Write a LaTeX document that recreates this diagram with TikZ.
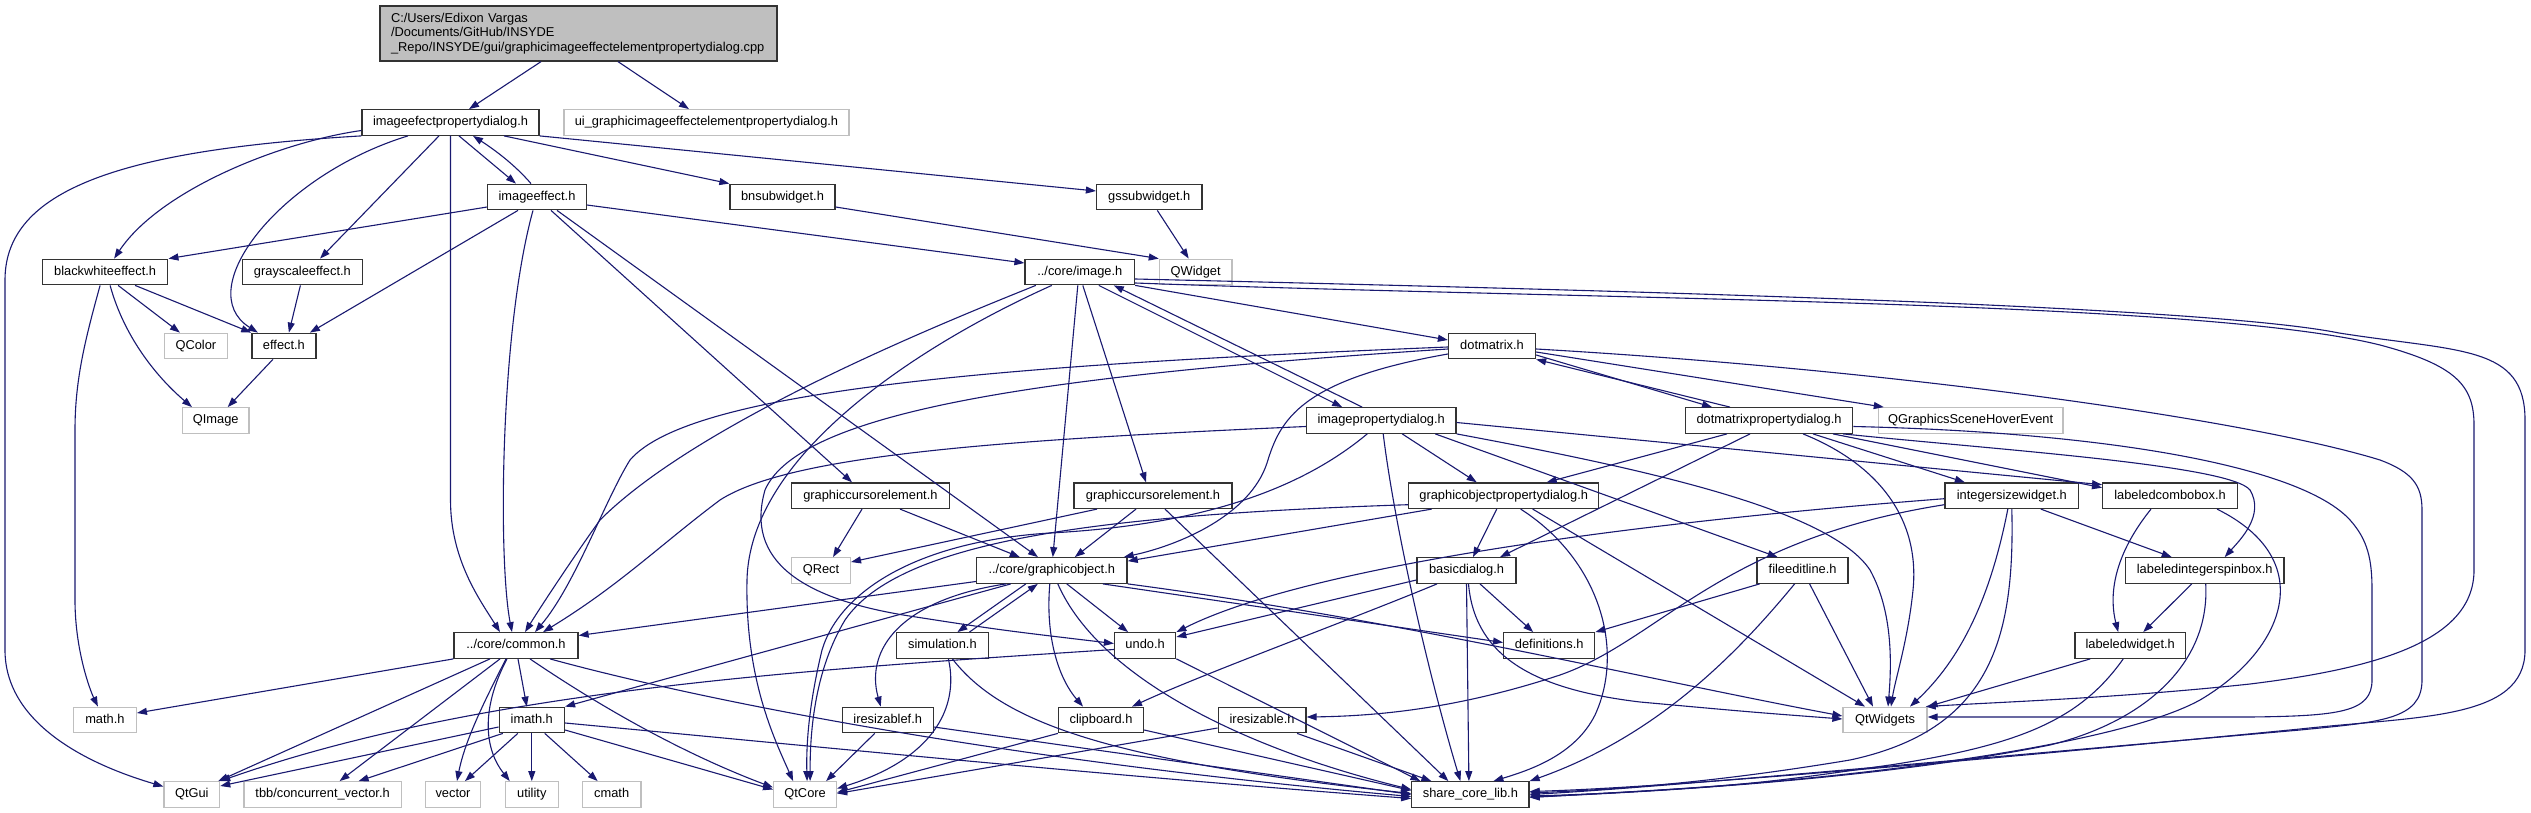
\documentclass[tikz,border=0pt]{standalone}
\usepackage{fontspec}
\setmainfont{Liberation Sans}
\usetikzlibrary{arrows.meta}
\definecolor{edgecol}{HTML}{191970}
\definecolor{gbord}{HTML}{BFBFBF}
\definecolor{rootfill}{HTML}{BFBFBF}
\begin{document}
\begin{tikzpicture}[x=1pt,y=-1pt,
 every node/.style={font=\fontsize{12.85}{14.7}\selectfont},
 nb/.style={draw=black!80,line width=1.3pt,fill=white,minimum height=25.5pt,inner sep=0pt,text height=9.3pt,text depth=2.7pt},
 ng/.style={draw=gbord,line width=1.3pt,fill=white,minimum height=25.5pt,inner sep=0pt,text height=9.3pt,text depth=2.7pt},
 edg/.style={draw=edgecol,line width=1.1pt,-{Triangle[length=10pt,width=7pt]}}]
\fill[white] (0,0) rectangle (2531,813);
\useasboundingbox (0,0) rectangle (2531,813);
% nodes
\node[draw=black!80,line width=1.3pt,fill=rootfill,minimum width=397pt,minimum height=55pt,text width=375pt,align=left,inner sep=0pt] (R) at (578.5,33.5) {C:/Users/Edixon Vargas\\/Documents/GitHub/INSYDE\\\_Repo/INSYDE/gui/graphicimageeffectelementpropertydialog.cpp};
\node[nb,minimum width=177pt] (IEPD) at (450.5,122.5) {imageefectpropertydialog.h};
\node[ng,minimum width=285pt] (UI) at (706.5,122.5) {ui\_graphicimageeffectelementpropertydialog.h};
\node[nb,minimum width=98.5pt] (IE) at (537,197) {imageeffect.h};
\node[nb,minimum width=105pt] (BN) at (782.5,197) {bnsubwidget.h};
\node[nb,minimum width=105.5pt] (GS) at (1149.3,197) {gssubwidget.h};
\node[nb,minimum width=125.4pt] (BW) at (105.1,272) {blackwhiteeffect.h};
\node[nb,minimum width=120pt] (GR) at (302.4,272) {grayscaleeffect.h};
\node[nb,minimum width=109.5pt] (IMG) at (1079.8,272) {../core/image.h};
\node[ng,minimum width=72.6pt] (QW) at (1195.7,272) {QWidget};
\node[ng,minimum width=62.8pt] (QC) at (195.9,346) {QColor};
\node[nb,minimum width=64.1pt] (EF) at (283.9,346) {effect.h};
\node[nb,minimum width=87pt] (DM) at (1492,346) {dotmatrix.h};
\node[ng,minimum width=66.6pt] (QI) at (215.7,420.5) {QImage};
\node[nb,minimum width=149.5pt] (IPD) at (1381.2,420.5) {imagepropertydialog.h};
\node[nb,minimum width=167.4pt] (DMPD) at (1769,420.5) {dotmatrixpropertydialog.h};
\node[ng,minimum width=184.6pt] (QG) at (1970.7,420.5) {QGraphicsSceneHoverEvent};
\node[nb,minimum width=157.6pt] (GCE1) at (870.4,495.7) {graphiccursorelement.h};
\node[nb,minimum width=158pt] (GCE2) at (1153,495.7) {graphiccursorelement.h};
\node[nb,minimum width=190.2pt] (GOPD) at (1503.7,495.7) {graphicobjectpropertydialog.h};
\node[nb,minimum width=133.6pt] (ISW) at (2011.8,495.7) {integersizewidget.h};
\node[nb,minimum width=134.6pt] (LCB) at (2170,495.7) {labeledcombobox.h};
\node[ng,minimum width=58.8pt] (QR) at (821,570.5) {QRect};
\node[nb,minimum width=150.6pt] (GO) at (1051.8,570.5) {../core/graphicobject.h};
\node[nb,minimum width=99pt] (BD) at (1466.5,570.5) {basicdialog.h};
\node[nb,minimum width=91pt] (FEL) at (1802.6,570.5) {fileeditline.h};
\node[nb,minimum width=158.4pt] (LISB) at (2204.7,570.5) {labeledintegerspinbox.h};
\node[nb,minimum width=124pt] (CM) at (516,645.5) {../core/common.h};
\node[nb,minimum width=92pt] (SIM) at (942.4,645.5) {simulation.h};
\node[nb,minimum width=61.2pt] (UNDO) at (1145.1,645.5) {undo.h};
\node[nb,minimum width=91pt] (DEF) at (1549.2,645.5) {definitions.h};
\node[nb,minimum width=110.5pt] (LW) at (2130.2,645.5) {labeledwidget.h};
\node[ng,minimum width=62.8pt] (MATH) at (104.9,720) {math.h};
\node[nb,minimum width=65.3pt] (IM) at (531.8,720) {imath.h};
\node[nb,minimum width=91pt] (IRF) at (887.7,720) {iresizablef.h};
\node[nb,minimum width=85pt] (CLIP) at (1101,720) {clipboard.h};
\node[nb,minimum width=87.8pt] (IR) at (1262.1,720) {iresizable.h};
\node[ng,minimum width=84pt] (QTW) at (1885,720) {QtWidgets};
\node[ng,minimum width=55.6pt] (QTG) at (191.8,794.5) {QtGui};
\node[ng,minimum width=157.2pt] (TBB) at (322.6,794.5) {tbb/concurrent\_vector.h};
\node[ng,minimum width=55.5pt] (VEC) at (453,794.5) {vector};
\node[ng,minimum width=53pt] (UTIL) at (531.8,794.5) {utility};
\node[ng,minimum width=58.6pt] (CMATH) at (611.7,794.5) {cmath};
\node[ng,minimum width=62.8pt] (QTC) at (805.1,794.5) {QtCore};
\node[nb,minimum width=117.2pt] (SCL) at (1470.4,794.5) {share\_core\_lib.h};
% edges
\draw[edg] ([xshift=-37.5pt]R.south) -- ([xshift=18.5pt]IEPD.north);
\draw[edg] ([xshift=39.5pt]R.south) -- ([xshift=-17.5pt]UI.north);
\draw[edg] ([xshift=8.5pt]IEPD.south) -- ([xshift=-21pt]IE.north);
\draw[edg] ([xshift=-6pt]IE.north) .. controls (515,165) and (495,150) .. ([xshift=22.5pt]IEPD.south);
\draw[edg] ([xshift=53.5pt]IEPD.south) -- (BN.north west);
\draw[edg] (IEPD.south east) -- ([yshift=6pt]GS.west);
\draw[edg] ([yshift=-8pt]IEPD.west) .. controls (280,142) and (160,190) .. ([xshift=9pt]BW.north);
\draw[edg] ([xshift=-11.5pt]IEPD.south) -- ([xshift=17.6pt]GR.north);
\draw[edg] ([xshift=-42.5pt]IEPD.south) .. controls (280,175) and (190,290) .. ([xshift=-26pt]EF.north);
\draw[edg] (IEPD.south west) .. controls (120,150) and (5,190) .. (5,280) -- (5,650) .. controls (5,720) and (80,762) .. ([yshift=8pt]QTG.west);
\draw[edg] (IEPD.south) -- (450.5,500) .. controls (450.5,560) and (480,600) .. ([xshift=-16pt]CM.north);
\draw[edg] ([yshift=-10pt]IE.west) -- (BW.north east);
\draw[edg] ([xshift=-19pt]IE.south) -- ([xshift=26pt]EF.north);
\draw[edg] ([xshift=-4pt]IE.south) .. controls (500,330) and (498,560) .. ([xshift=-4pt]CM.north);
\draw[edg] ([yshift=-8pt]IE.east) -- ([yshift=9pt]IMG.west);
\draw[edg] ([xshift=14pt]IE.south) -- ([xshift=-18.4pt]GCE1.north);
\draw[edg] ([xshift=20pt]IE.south) -- ([xshift=-13.8pt]GO.north);
\draw[edg] ([xshift=30pt]BW.south) -- (EF.north west);
\draw[edg] ([xshift=13pt]BW.south) -- ([xshift=-16pt]QC.north);
\draw[edg] ([xshift=5pt]BW.south) .. controls (125,340) and (160,380) .. ([xshift=-23.7pt]QI.north);
\draw[edg] ([xshift=-5pt]BW.south) .. controls (85,340) and (75,380) .. (75,430) -- (75,600) .. controls (75,650) and (90,690) .. ([xshift=-7pt]MATH.north);
\draw[edg] ([xshift=-2pt]GR.south) -- ([xshift=5pt]EF.north);
\draw[edg] ([xshift=-11pt]EF.south) -- ([xshift=12pt]QI.north);
\draw[edg] ([yshift=-10pt]BN.east) -- (QW.north west);
\draw[edg] ([xshift=8pt]GS.south) -- ([xshift=-7pt]QW.north);
% image.h
\draw[edg] (IMG.south east) -- ([yshift=6pt]DM.west);
\draw[edg] ([yshift=-7pt]IMG.east) .. controls (1600,290) and (2200,305) .. (2339,333) .. controls (2460,352) and (2525,345) .. (2525,420) -- (2525,650) .. controls (2525,720) and (2420,716) .. (2300,729) .. controls (1900,768) and (1650,788) .. ([yshift=3pt]SCL.east);
\draw[edg] ([yshift=-11pt]IMG.east) .. controls (1600,300) and (2200,300) .. (2380,345) .. controls (2455,365) and (2474,385) .. (2474,425) -- (2474,570) .. controls (2474,640) and (2380,668) .. (2250,684) .. controls (2120,698) and (2000,702) .. ([xshift=-2pt]QTW.north east);
\draw[edg] ([xshift=-44pt]IMG.south) .. controls (950,320) and (700,420) .. (600,520) .. controls (575,555) and (545,600) .. ([xshift=9pt]CM.north);
\draw[edg] ([xshift=-28pt]IMG.south) .. controls (930,340) and (750,450) .. (747,580) .. controls (745,680) and (775,740) .. ([xshift=-12pt]QTC.north);
\draw[edg] ([xshift=-2pt]IMG.south) -- ([xshift=1pt]GO.north);
\draw[edg] ([xshift=3pt]IMG.south) -- ([xshift=-7pt]GCE2.north);
\draw[edg] ([xshift=19pt]IMG.south) -- ([xshift=-39pt]IPD.north);
\draw[edg] ([xshift=-19pt]IPD.north) -- ([xshift=34pt]IMG.south);
% dotmatrix.h
\draw[edg] ([yshift=-9pt]DM.east) -- ([xshift=-57pt]DMPD.north);
\draw[edg] ([xshift=-39pt]DMPD.north) -- (DM.south east);
\draw[edg] ([yshift=-6pt]DM.east) -- ([xshift=6pt]QG.north west);
\draw[edg] ([yshift=-3pt]DM.east) .. controls (1900,370) and (2250,420) .. (2380,460) .. controls (2412,472) and (2422,485) .. (2422,510) -- (2422,680) .. controls (2422,720) and (2380,722) .. (2300,730) .. controls (1900,765) and (1650,788) .. (SCL.east);
\draw[edg] ([yshift=-1pt]DM.west) .. controls (1000,365) and (690,390) .. (630,460) .. controls (605,500) and (575,585) .. ([xshift=19pt]CM.north);
\draw[edg] ([yshift=-3pt]DM.west) .. controls (1050,375) and (800,410) .. (765,490) .. controls (745,560) and (800,600) .. (916,617) .. controls (1000,630) .. ([yshift=2pt]UNDO.west);
\draw[edg] ([yshift=-8pt]DM.west) .. controls (1300,380) and (1280,420) .. (1267,463) .. controls (1250,515) and (1180,545) .. ([xshift=-4pt]GO.north east);
% imagepropertydialog.h
\draw[edg] ([yshift=-6pt]IPD.west) .. controls (1000,440) and (790,455) .. (720,500) .. controls (660,545) and (620,585) .. ([xshift=27pt]CM.north);
\draw[edg] ([xshift=21pt]IPD.south) -- ([xshift=-27pt]GOPD.north);
\draw[edg] ([xshift=54pt]IPD.south) -- ([xshift=-25pt]FEL.north);
\draw[edg] ([yshift=-2pt]IPD.east) -- ([yshift=11pt]LCB.west);
\draw[edg] (IPD.south east) .. controls (1650,470) and (1830,510) .. (1870,570) .. controls (1892,610) and (1892,660) .. ([xshift=3pt]QTW.north);
\draw[edg] ([xshift=2pt]IPD.south) .. controls (1395,530) and (1430,680) .. ([xshift=-10pt]SCL.north);
\draw[edg] ([xshift=-14pt]IPD.south) .. controls (1300,490) and (1200,525) .. (1050,533) .. controls (920,541) and (840,590) .. (822,650) .. controls (810,700) and (806,740) .. ([xshift=2pt]QTC.north);
% dotmatrixpropertydialog.h
\draw[edg] ([xshift=-42pt]DMPD.south) -- ([xshift=43pt]GOPD.north);
\draw[edg] ([xshift=-19pt]DMPD.south) -- ([xshift=33.5pt]BD.north);
\draw[edg] ([xshift=34pt]DMPD.south) .. controls (1880,465) and (1920,520) .. (1913,590) .. controls (1908,640) and (1895,680) .. ([xshift=6pt]QTW.north);
\draw[edg] ([xshift=44pt]DMPD.south) -- ([xshift=-47pt]ISW.north);
\draw[edg] ([xshift=64pt]DMPD.south) -- ([yshift=8pt]LCB.west);
\draw[edg] ([xshift=74pt]DMPD.south) .. controls (2000,450) and (2230,465) .. (2250,490) .. controls (2265,515) and (2240,540) .. ([xshift=20pt]LISB.north);
\draw[edg] ([yshift=-6pt]DMPD.east) .. controls (2100,432) and (2300,465) .. (2350,520) .. controls (2368,540) and (2372,560) .. (2372,590) -- (2372,680) .. controls (2372,712) and (2340,716) .. (2250,717) -- ([yshift=3pt]QTW.east);
% graphicobjectpropertydialog.h
\draw[edg] ([xshift=-72pt]GOPD.south) -- ([yshift=-4pt]GO.north east);
\draw[edg] ([xshift=-7pt]GOPD.south) -- ([xshift=6.5pt]BD.north);
\draw[edg] ([yshift=-9pt]GOPD.west) .. controls (1100,515) and (900,540) .. (845,620) .. controls (815,670) and (810,730) .. ([xshift=5pt]QTC.north);
\draw[edg] ([xshift=17pt]GOPD.south) .. controls (1600,560) and (1625,650) .. (1595,715) .. controls (1575,755) and (1530,770) .. ([xshift=23pt]SCL.north);
\draw[edg] ([xshift=29pt]GOPD.south) -- ([xshift=-20pt]QTW.north);
% basicdialog.h
\draw[edg] ([xshift=13.5pt]BD.south) -- ([xshift=-16pt]DEF.north);
\draw[edg] (BD.south) -- ([xshift=-1.5pt]SCL.north);
\draw[edg] ([xshift=2pt]BD.south) .. controls (1475,660) and (1540,690) .. (1640,702) .. controls (1750,712) .. ([yshift=1pt]QTW.west);
\draw[edg] ([xshift=-29.5pt]BD.south) .. controls (1350,620) and (1200,675) .. ([xshift=31pt]CLIP.north);
\draw[edg] ([yshift=-9.5pt]BD.west) -- ([yshift=8.5pt]UNDO.east);
% fileeditline.h
\draw[edg] ([xshift=-43pt]FEL.south) -- (DEF.north east);
\draw[edg] ([xshift=7pt]FEL.south) -- ([xshift=-12pt]QTW.north);
\draw[edg] ([xshift=-8pt]FEL.south) .. controls (1740,650) and (1660,735) .. (SCL.north east);
% integersizewidget.h
\draw[edg] ([yshift=-3pt]ISW.west) .. controls (1600,525) and (1300,570) .. (UNDO.north east);
\draw[edg] ([yshift=-9pt]ISW.west) .. controls (1720,540) and (1660,640) .. (1560,675) .. controls (1460,708) and (1380,716) .. ([yshift=3pt]IR.east);
\draw[edg] ([xshift=-4pt]ISW.south) .. controls (1990,600) and (1960,660) .. ([xshift=25pt]QTW.north);
\draw[edg] (ISW.south) .. controls (2015,640) and (1990,730) .. (1850,760) .. controls (1700,785) and (1600,790) .. ([yshift=1.5pt]SCL.east);
\draw[edg] ([xshift=29pt]ISW.south) -- ([xshift=-33pt]LISB.north);
% labeled widgets
\draw[edg] ([xshift=-19pt]LCB.south) .. controls (2110,560) and (2110,600) .. ([xshift=-12pt]LW.north);
\draw[edg] ([xshift=47pt]LCB.south) .. controls (2320,560) and (2285,650) .. (2200,700) .. controls (2100,755) and (1750,790) .. ([yshift=-1.5pt]SCL.east);
\draw[edg] ([xshift=-13pt]LISB.south) -- ([xshift=13pt]LW.north);
\draw[edg] ([xshift=1pt]LISB.south) .. controls (2210,660) and (2150,720) .. (2050,745) .. controls (1900,775) and (1700,790) .. ([yshift=-2.5pt]SCL.east);
\draw[edg] ([xshift=-40pt]LW.south) -- (QTW.north east);
\draw[edg] ([xshift=-7pt]LW.south) .. controls (2080,720) and (2020,745) .. (1890,765) .. controls (1750,785) .. ([yshift=-3pt]SCL.east);
% graphiccursorelement
\draw[edg] ([xshift=-8.4pt]GCE1.south) -- ([xshift=12pt]QR.north);
\draw[edg] ([xshift=29.6pt]GCE1.south) -- ([xshift=-32pt]GO.north);
\draw[edg] ([xshift=-56pt]GCE2.south) -- ([yshift=8.5pt]QR.east);
\draw[edg] ([xshift=-17pt]GCE2.south) -- ([xshift=23pt]GO.north);
\draw[edg] ([xshift=12pt]GCE2.south) -- ([xshift=-22pt]SCL.north);
% graphicobject.h
\draw[edg] ([yshift=-11pt]GO.west) -- ([yshift=10pt]CM.east);
\draw[edg] ([xshift=-41pt]GO.south) -- (IM.north east);
\draw[edg] ([xshift=-26pt]GO.south) -- ([xshift=15pt]SIM.north);
\draw[edg] ([xshift=27pt]SIM.north) -- ([xshift=-14pt]GO.south);
\draw[edg] ([xshift=15pt]GO.south) -- ([xshift=-17pt]UNDO.north);
\draw[edg] ([xshift=-46pt]GO.south) .. controls (900,600) and (865,650) .. ([xshift=-7pt]IRF.north);
\draw[edg] ([xshift=-2pt]GO.south) .. controls (1045,640) and (1060,680) .. ([xshift=-18pt]CLIP.north);
\draw[edg] ([xshift=6pt]GO.south) .. controls (1100,680) and (1250,750) .. ([yshift=5pt]SCL.west);
\draw[edg] ([xshift=51pt]GO.south) -- ([yshift=3pt]DEF.west);
\draw[edg] (GO.south east) .. controls (1400,620) and (1650,680) .. ([yshift=4pt]QTW.west);
% simulation, undo, clipboard, iresizable
\draw[edg] ([xshift=6pt]SIM.south) .. controls (960,710) and (930,760) .. ([yshift=6pt]QTC.east);
\draw[edg] ([xshift=10pt]SIM.south) .. controls (1000,720) and (1100,760) .. ([yshift=1pt]SCL.west);
\draw[edg] ([yshift=-4pt]UNDO.west) .. controls (800,670) and (480,690) .. (QTG.north east);
\draw[edg] (UNDO.south east) -- ([xshift=-50pt]SCL.north);
\draw[edg] (CLIP.south west) -- ([yshift=2pt]QTC.east);
\draw[edg] ([yshift=-10pt]CLIP.east) -- ([yshift=4pt]SCL.west);
\draw[edg] ([xshift=-13pt]IRF.south) -- ([xshift=21pt]QTC.north);
\draw[edg] ([yshift=-7pt]IRF.east) -- (SCL.west);
\draw[edg] ([yshift=-8pt]IR.west) -- ([yshift=1pt]QTC.east);
\draw[edg] ([xshift=35pt]IR.south) -- ([xshift=-39pt]SCL.north);
% common.h
\draw[edg] (CM.south west) -- ([yshift=7pt]MATH.east);
\draw[edg] ([xshift=-26pt]CM.south) -- ([xshift=-2pt]QTG.north east);
\draw[edg] ([xshift=-16pt]CM.south) -- ([xshift=17pt]TBB.north);
\draw[edg] ([xshift=-10pt]CM.south) .. controls (485,700) and (465,740) .. ([xshift=4pt]VEC.north);
\draw[edg] ([xshift=-9pt]CM.south) .. controls (480,710) and (485,750) .. ([xshift=-22pt]UTIL.north);
\draw[edg] ([xshift=2pt]CM.south) -- ([xshift=-5pt]IM.north);
\draw[edg] ([xshift=14pt]CM.south) .. controls (620,720) and (700,760) .. ([yshift=7pt]QTC.west);
\draw[edg] ([xshift=34pt]CM.south) .. controls (700,700) and (1000,760) .. ([yshift=-2pt]SCL.west);
% imath.h
\draw[edg] ([yshift=-7pt]IM.west) -- ([yshift=8.5pt]QTG.east);
\draw[edg] ([xshift=-29pt]IM.south) -- ([xshift=36pt]TBB.north);
\draw[edg] ([xshift=-14pt]IM.south) -- ([xshift=12pt]VEC.north);
\draw[edg] (IM.south) -- (UTIL.north);
\draw[edg] ([xshift=13pt]IM.south) -- ([xshift=-14pt]CMATH.north);
\draw[edg] ([yshift=-10pt]IM.east) -- ([yshift=5pt]QTC.west);
\draw[edg] ([yshift=-3pt]IM.east) .. controls (800,745) and (1100,775) .. ([yshift=-4pt]SCL.west);
\end{tikzpicture}
\end{document}
